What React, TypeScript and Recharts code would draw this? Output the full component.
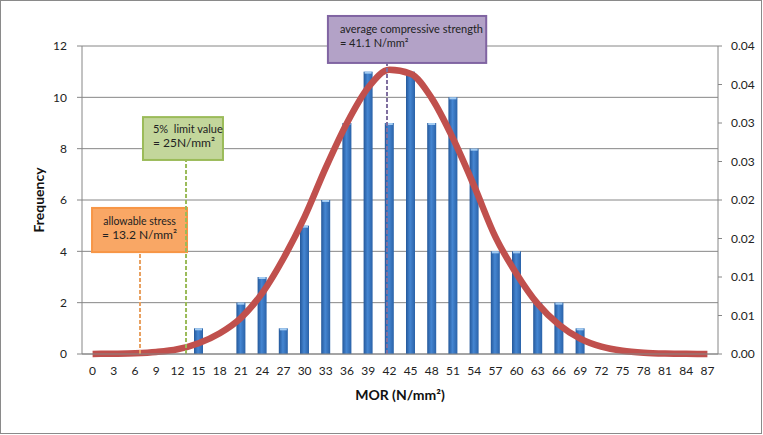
import React from 'react';
import {
  ComposedChart, Bar, Line, XAxis, YAxis, CartesianGrid, ReferenceLine, ReferenceArea, Label,
} from 'recharts';

const morValues = [0, 3, 6, 9, 12, 15, 18, 21, 24, 27, 30, 33, 36, 39, 42, 45, 48, 51, 54, 57, 60, 63, 66, 69, 72, 75, 78, 81, 84, 87];
const frequency = [0, 0, 0, 0, 0, 1, 0, 2, 3, 1, 5, 6, 9, 11, 9, 11, 9, 10, 8, 4, 4, 2, 2, 1, 0, 0, 0, 0, 0, 0];
const normalPdf = [0.00001, 0.00004, 0.0001, 0.00026, 0.00061, 0.0014, 0.0027, 0.0047, 0.0079, 0.0124, 0.0178, 0.0242, 0.0300, 0.0346, 0.0369, 0.0364, 0.0332, 0.0280, 0.0218, 0.0152, 0.0104, 0.0065, 0.0038, 0.0020, 0.00095, 0.00042, 0.00017, 0.00006, 0.00002, 0.00001];
const leftTicks = [0, 2, 4, 6, 8, 10, 12];
const rightTicks = [0, 0.005, 0.01, 0.015, 0.02, 0.025, 0.03, 0.035, 0.04];

// annotation boxes in data units (x on MOR scale, y on frequency scale)
const annotations = [
  { key: 'avg', x1: 33.3, x2: 55.7, y1: 11.34, y2: 13.17, lines: ['average compressive strength', '= 41.1 N/mm²'], align: 'left' },
  { key: 'lim', x1: 7.13, x2: 18.45, y1: 7.56, y2: 9.23, lines: ['5%\u00a0 limit value', '= 25N/mm²'], align: 'left' },
  { key: 'allow', x1: -0.08, x2: 13.36, y1: 3.97, y2: 5.69, lines: ['allowable stress', '= 13.2 N/mm²'], align: 'center' },
];
const markerLines = [
  { key: 'allow', x: 6.71, top: 3.97 },
  { key: 'lim', x: 13.22, top: 7.56 },
  { key: 'avg', x: 41.66, top: 11.34 },
];

const boxStyles: Record<string, { fill: string; stroke: string; dash: string; fs: number[] }> = {
  avg: { fill: '#b3a2c7', stroke: '#8064a2', dash: '#7f6f9f', fs: [11, 11] },
  lim: { fill: '#c3d69b', stroke: '#9bbb59', dash: '#9bbb59', fs: [11, 12] },
  allow: { fill: '#f9a765', stroke: '#f79646', dash: '#e8a060', fs: [10.5, 12] },
};

const data = morValues.map((m, i) => ({ mor: m, freq: frequency[i], pdf: normalPdf[i] }));

const FONT = 'Lato, "Open Sans", sans-serif';

const BarShape = (props: any) => {
  const { x, y, width, height } = props;
  if (!height || height <= 0) return null;
  return (
    <g>
      <defs>
        <linearGradient id="barGrad" x1="0" y1="0" x2="1" y2="0">
          <stop offset="0%" stopColor="#24589a" />
          <stop offset="45%" stopColor="#4586d2" />
          <stop offset="100%" stopColor="#2a62a8" />
        </linearGradient>
      </defs>
      <rect x={x} y={y} width={width} height={height} fill="url(#barGrad)" />
      <rect x={x + 1} y={y} width={width - 2} height={2} fill="#a4ccf2" />
    </g>
  );
};

const makeBoxShape = (a: any) => (props: any) => {
  const { x, y, width, height } = props;
  const st = boxStyles[a.key];
  const tx = a.align === 'center' ? x + width / 2 : x + (a.key === 'avg' ? 12 : 10);
  const anchor = a.align === 'center' ? 'middle' : 'start';
  const l1 = a.key === 'avg' ? 13 : a.key === 'lim' ? 11 : 13;
  const l2 = a.key === 'avg' ? 27 : a.key === 'lim' ? 25 : 27;
  return (
    <g>
      <rect x={x} y={y} width={width} height={height} fill={st.fill} stroke={st.stroke} strokeWidth={2} />
      <text x={tx} y={y + l1} fontSize={st.fs[0]} fontFamily={FONT} fill="#222" textAnchor={anchor} dominantBaseline="central" style={{ whiteSpace: 'pre' }}>{a.lines[0]}</text>
      <text x={tx} y={y + l2} fontSize={st.fs[1]} fontFamily={FONT} fill="#222" textAnchor={anchor} dominantBaseline="central">{a.lines[1]}</text>
    </g>
  );
};

const fmtRight = (v: number) => (Math.round(v * 100 + 1e-9) / 100).toFixed(2);

export default function App() {
  return (
    <div style={{ position: 'fixed', left: 0, top: 0, width: 763, height: 435, background: '#fff' }}>
      <div style={{ position: 'absolute', left: 0, top: 0, width: 762, height: 434, border: '1px solid #8a8a8a', boxSizing: 'border-box' }} />
      <ComposedChart
        width={763}
        height={435}
        data={data}
        margin={{ top: 46, right: 0, bottom: 31, left: 0 }}
        style={{ position: 'absolute', left: 0, top: 0, fontFamily: FONT }}
      >
        <CartesianGrid yAxisId="left" vertical={false} stroke="#868686" strokeWidth={1} />
        <XAxis
          xAxisId="cat"
          dataKey="mor"
          type="category"
          height={50}
          tickLine={false}
          tickSize={6}
          tickMargin={6}
          interval={0}
          stroke="#868686"
          tick={{ fill: '#222', fontSize: 12, fontFamily: FONT }}
        >
          <Label value="MOR (N/mm²)" position="insideBottom" offset={4} style={{ fontWeight: 700, fontSize: 14, fill: '#111', fontFamily: FONT }} />
        </XAxis>
        <XAxis xAxisId="num" type="number" dataKey="mor" domain={[-1.5, 88.5]} allowDataOverflow hide />
        <YAxis
          yAxisId="left"
          orientation="left"
          width={82}
          domain={[0, 12]}
          ticks={leftTicks}
          tickSize={5}
          tickMargin={10}
          stroke="#868686"
          tick={{ fill: '#222', fontSize: 12, fontFamily: FONT }}
        >
          <Label value="Frequency" angle={-90} position="center" dx={-2} style={{ fontWeight: 700, fontSize: 14, fill: '#111', fontFamily: FONT, textAnchor: 'middle' }} />
        </YAxis>
        <YAxis
          yAxisId="right"
          orientation="right"
          width={45}
          domain={[0, 0.04]}
          ticks={rightTicks}
          tickSize={4}
          tickMargin={9}
          tickFormatter={fmtRight}
          stroke="#868686"
          tick={{ fill: '#222', fontSize: 12, fontFamily: FONT }}
        />
        <Bar xAxisId="cat" yAxisId="left" dataKey="freq" barSize={9} shape={<BarShape />} isAnimationActive={false} />
        <Line xAxisId="cat" yAxisId="right" dataKey="pdf" type="monotone" stroke="#c0504d" strokeWidth={6.5} dot={false} activeDot={false} isAnimationActive={false} />
        {markerLines.map((m) => (
          <ReferenceLine
            key={m.key}
            xAxisId="num"
            yAxisId="left"
            segment={[{ x: m.x, y: 0 }, { x: m.x, y: m.top }]}
            stroke={boxStyles[m.key].dash}
            strokeWidth={2}
            strokeDasharray="4 2"
            ifOverflow="visible"
          />
        ))}
        {annotations.map((a) => (
          <ReferenceArea
            key={a.key}
            xAxisId="num"
            yAxisId="left"
            x1={a.x1}
            x2={a.x2}
            y1={a.y1}
            y2={a.y2}
            ifOverflow="visible"
            shape={makeBoxShape(a)}
          />
        ))}
      </ComposedChart>
    </div>
  );
}
